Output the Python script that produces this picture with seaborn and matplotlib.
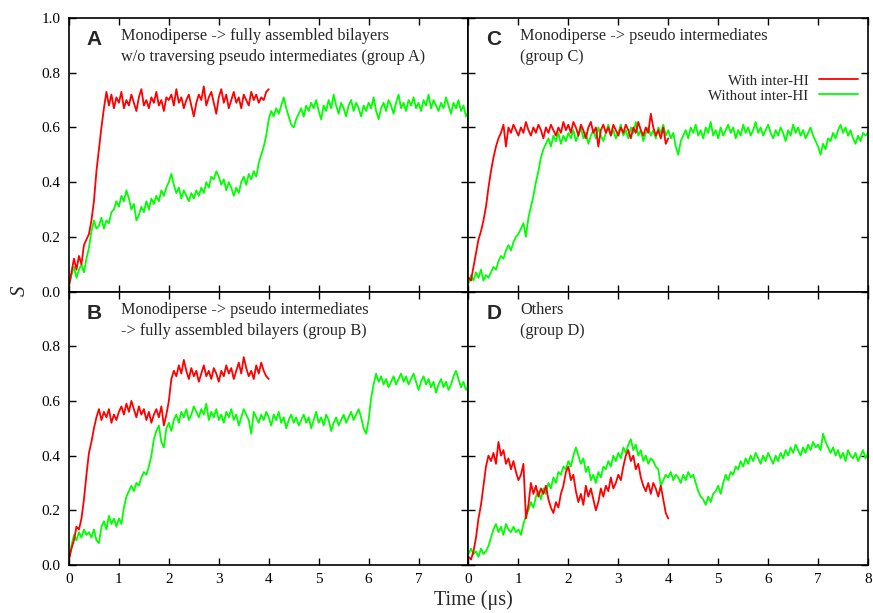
import numpy as np
import pandas as pd
import matplotlib
matplotlib.use("Agg")
import matplotlib.pyplot as plt
import seaborn as sns

# === Order parameter S vs time, 4 groups ===

DT = 0.05  # sampling step of the series (µs)

# group A
a_with = [0.02, 0.07, 0.12, 0.08, 0.13, 0.10, 0.17, 0.19, 0.21, 0.26, 0.33, 0.44, 0.52, 0.60, 0.67, 0.73, 0.68, 0.72, 0.67, 0.71,
          0.69, 0.73, 0.67, 0.70, 0.68, 0.72, 0.69, 0.66, 0.71, 0.74, 0.68, 0.70, 0.67, 0.71, 0.69, 0.73, 0.68, 0.70, 0.66, 0.71,
          0.70, 0.72, 0.68, 0.74, 0.69, 0.71, 0.67, 0.70, 0.72, 0.68, 0.64, 0.69, 0.72, 0.70, 0.75, 0.68, 0.71, 0.73, 0.69, 0.65,
          0.71, 0.74, 0.69, 0.72, 0.67, 0.70, 0.73, 0.69, 0.71, 0.67, 0.72, 0.70, 0.68, 0.73, 0.70, 0.72, 0.69, 0.71, 0.70, 0.73,
          0.74]
a_without = [0.02, 0.06, 0.09, 0.05, 0.08, 0.10, 0.07, 0.12, 0.16, 0.22, 0.26, 0.23, 0.24, 0.27, 0.23, 0.26, 0.25, 0.29, 0.30, 0.33,
             0.31, 0.35, 0.33, 0.37, 0.34, 0.30, 0.32, 0.26, 0.28, 0.31, 0.29, 0.33, 0.30, 0.34, 0.32, 0.35, 0.33, 0.37, 0.35, 0.38,
             0.40, 0.43, 0.39, 0.36, 0.38, 0.34, 0.37, 0.35, 0.33, 0.36, 0.34, 0.37, 0.35, 0.38, 0.36, 0.40, 0.38, 0.42, 0.41, 0.44,
             0.42, 0.39, 0.41, 0.37, 0.40, 0.38, 0.35, 0.38, 0.36, 0.40, 0.42, 0.39, 0.43, 0.41, 0.44, 0.42, 0.47, 0.50, 0.53, 0.57,
             0.63, 0.66, 0.64, 0.67, 0.65, 0.68, 0.71, 0.67, 0.64, 0.61, 0.60, 0.63, 0.65, 0.67, 0.64, 0.68, 0.66, 0.69, 0.67, 0.70,
             0.66, 0.63, 0.68, 0.66, 0.70, 0.67, 0.72, 0.68, 0.65, 0.69, 0.67, 0.64, 0.68, 0.70, 0.66, 0.69, 0.67, 0.64, 0.68, 0.66,
             0.69, 0.67, 0.71, 0.66, 0.63, 0.67, 0.69, 0.66, 0.70, 0.68, 0.65, 0.69, 0.72, 0.67, 0.69, 0.66, 0.70, 0.68, 0.71, 0.67,
             0.69, 0.66, 0.70, 0.68, 0.72, 0.67, 0.70, 0.68, 0.66, 0.69, 0.67, 0.71, 0.68, 0.65, 0.69, 0.67, 0.70, 0.66, 0.68, 0.64,
             0.66]

# group B
b_with = [0.02, 0.06, 0.09, 0.14, 0.13, 0.17, 0.24, 0.33, 0.41, 0.45, 0.50, 0.54, 0.57, 0.53, 0.56, 0.54, 0.57, 0.52, 0.55, 0.53,
          0.56, 0.58, 0.55, 0.59, 0.56, 0.60, 0.57, 0.54, 0.58, 0.55, 0.57, 0.53, 0.56, 0.52, 0.55, 0.57, 0.54, 0.58, 0.51, 0.55,
          0.60, 0.68, 0.71, 0.69, 0.73, 0.70, 0.75, 0.71, 0.68, 0.72, 0.69, 0.71, 0.67, 0.70, 0.73, 0.69, 0.71, 0.68, 0.72, 0.70,
          0.67, 0.71, 0.69, 0.73, 0.70, 0.72, 0.68, 0.71, 0.74, 0.70, 0.76, 0.72, 0.69, 0.71, 0.68, 0.73, 0.70, 0.74, 0.71, 0.69,
          0.68]
b_without = [0.02, 0.07, 0.11, 0.09, 0.12, 0.10, 0.13, 0.11, 0.12, 0.10, 0.13, 0.09, 0.08, 0.14, 0.16, 0.13, 0.18, 0.15, 0.17, 0.14,
             0.17, 0.15, 0.21, 0.25, 0.27, 0.29, 0.27, 0.30, 0.29, 0.32, 0.34, 0.33, 0.36, 0.40, 0.46, 0.49, 0.51, 0.45, 0.43, 0.50,
             0.52, 0.49, 0.53, 0.55, 0.52, 0.56, 0.54, 0.57, 0.53, 0.55, 0.58, 0.56, 0.54, 0.57, 0.55, 0.59, 0.53, 0.56, 0.54, 0.57,
             0.53, 0.55, 0.52, 0.56, 0.54, 0.57, 0.53, 0.55, 0.51, 0.54, 0.57, 0.55, 0.53, 0.48, 0.56, 0.54, 0.52, 0.55, 0.53, 0.56,
             0.54, 0.51, 0.55, 0.53, 0.56, 0.52, 0.54, 0.50, 0.53, 0.55, 0.52, 0.54, 0.51, 0.53, 0.55, 0.52, 0.54, 0.50, 0.53, 0.56,
             0.52, 0.54, 0.51, 0.55, 0.53, 0.49, 0.52, 0.54, 0.51, 0.53, 0.55, 0.52, 0.54, 0.56, 0.53, 0.55, 0.57, 0.54, 0.50, 0.48,
             0.53, 0.61, 0.66, 0.70, 0.67, 0.69, 0.66, 0.68, 0.65, 0.67, 0.69, 0.66, 0.68, 0.70, 0.67, 0.69, 0.66, 0.68, 0.70, 0.67,
             0.64, 0.67, 0.69, 0.66, 0.68, 0.65, 0.67, 0.63, 0.66, 0.68, 0.65, 0.67, 0.64, 0.66, 0.69, 0.71, 0.68, 0.65, 0.67, 0.64,
             0.66]

# group C
c_with = [0.05, 0.04, 0.09, 0.14, 0.19, 0.22, 0.26, 0.31, 0.38, 0.44, 0.49, 0.53, 0.56, 0.58, 0.61, 0.53, 0.60, 0.58, 0.61, 0.59,
          0.57, 0.60, 0.58, 0.62, 0.59, 0.57, 0.60, 0.58, 0.61, 0.59, 0.56, 0.60, 0.58, 0.61, 0.59, 0.57, 0.60, 0.58, 0.62, 0.59,
          0.61, 0.58, 0.62, 0.60, 0.57, 0.61, 0.59, 0.56, 0.60, 0.62, 0.58, 0.60, 0.53, 0.59, 0.61, 0.58, 0.60, 0.57, 0.61, 0.59,
          0.57, 0.60, 0.58, 0.61, 0.59, 0.56, 0.60, 0.58, 0.62, 0.59, 0.57, 0.60, 0.58, 0.65, 0.60, 0.57, 0.59, 0.56, 0.60, 0.54,
          0.56]
c_without = [0.03, 0.06, 0.04, 0.07, 0.05, 0.08, 0.04, 0.06, 0.05, 0.07, 0.09, 0.08, 0.11, 0.13, 0.12, 0.15, 0.17, 0.15, 0.18, 0.20,
             0.21, 0.23, 0.25, 0.20, 0.27, 0.31, 0.35, 0.40, 0.44, 0.49, 0.52, 0.54, 0.56, 0.53, 0.57, 0.55, 0.58, 0.54, 0.57, 0.55,
             0.58, 0.56, 0.59, 0.55, 0.57, 0.60, 0.56, 0.58, 0.54, 0.57, 0.59, 0.56, 0.60, 0.57, 0.55, 0.58, 0.61, 0.57, 0.59, 0.56,
             0.58, 0.61, 0.57, 0.59, 0.56, 0.60, 0.58, 0.62, 0.57, 0.59, 0.55, 0.58, 0.60, 0.57, 0.59, 0.56, 0.60, 0.58, 0.61, 0.57,
             0.59, 0.56, 0.58, 0.53, 0.50, 0.55, 0.57, 0.59, 0.56, 0.60, 0.58, 0.61, 0.57, 0.59, 0.56, 0.60, 0.58, 0.62, 0.57, 0.59,
             0.56, 0.60, 0.57, 0.59, 0.61, 0.58, 0.60, 0.56, 0.59, 0.57, 0.61, 0.58, 0.60, 0.57, 0.59, 0.62, 0.58, 0.60, 0.57, 0.59,
             0.61, 0.58, 0.56, 0.59, 0.57, 0.60, 0.58, 0.55, 0.59, 0.57, 0.61, 0.58, 0.60, 0.57, 0.59, 0.56, 0.58, 0.60, 0.57, 0.55,
             0.53, 0.50, 0.54, 0.52, 0.56, 0.55, 0.58, 0.56, 0.59, 0.61, 0.58, 0.60, 0.57, 0.59, 0.56, 0.54, 0.57, 0.55, 0.58, 0.57,
             0.58]

# group D
d_with = [0.03, 0.02, 0.05, 0.10, 0.17, 0.22, 0.29, 0.36, 0.40, 0.38, 0.41, 0.37, 0.45, 0.40, 0.42, 0.37, 0.39, 0.35, 0.38, 0.34,
          0.31, 0.33, 0.37, 0.17, 0.22, 0.30, 0.26, 0.29, 0.25, 0.28, 0.26, 0.29, 0.24, 0.21, 0.19, 0.23, 0.21, 0.26, 0.29, 0.34,
          0.36, 0.31, 0.33, 0.27, 0.23, 0.26, 0.22, 0.29, 0.25, 0.28, 0.24, 0.20, 0.23, 0.28, 0.25, 0.29, 0.27, 0.32, 0.28, 0.30,
          0.33, 0.31, 0.36, 0.40, 0.42, 0.38, 0.40, 0.35, 0.37, 0.32, 0.29, 0.27, 0.30, 0.26, 0.30, 0.28, 0.25, 0.29, 0.24, 0.19,
          0.17]
d_without = [0.04, 0.06, 0.04, 0.05, 0.03, 0.06, 0.04, 0.05, 0.07, 0.10, 0.13, 0.15, 0.12, 0.14, 0.11, 0.15, 0.13, 0.12, 0.14, 0.12,
             0.13, 0.11, 0.15, 0.18, 0.20, 0.23, 0.21, 0.25, 0.27, 0.24, 0.28, 0.26, 0.30, 0.28, 0.32, 0.30, 0.34, 0.33, 0.36, 0.35,
             0.38, 0.36, 0.40, 0.43, 0.40, 0.37, 0.39, 0.34, 0.36, 0.31, 0.33, 0.30, 0.34, 0.32, 0.36, 0.35, 0.38, 0.36, 0.40, 0.38,
             0.41, 0.39, 0.43, 0.41, 0.44, 0.46, 0.42, 0.44, 0.40, 0.42, 0.38, 0.40, 0.37, 0.39, 0.38, 0.36, 0.35, 0.29, 0.31, 0.33,
             0.32, 0.34, 0.31, 0.33, 0.32, 0.30, 0.33, 0.31, 0.34, 0.32, 0.33, 0.30, 0.27, 0.25, 0.24, 0.22, 0.25, 0.23, 0.26, 0.27,
             0.29, 0.26, 0.30, 0.33, 0.31, 0.34, 0.33, 0.36, 0.35, 0.38, 0.36, 0.39, 0.37, 0.40, 0.38, 0.41, 0.39, 0.37, 0.40, 0.38,
             0.41, 0.39, 0.37, 0.40, 0.38, 0.41, 0.39, 0.42, 0.40, 0.43, 0.41, 0.44, 0.42, 0.40, 0.43, 0.41, 0.44, 0.42, 0.45, 0.43,
             0.44, 0.42, 0.48, 0.45, 0.43, 0.41, 0.43, 0.40, 0.42, 0.39, 0.41, 0.38, 0.42, 0.40, 0.39, 0.41, 0.38, 0.40, 0.42, 0.39,
             0.41]

panels = {
    "A": (a_with, a_without, "Monodiperse -> fully assembled bilayers\nw/o traversing pseudo intermediates (group A)"),
    "C": (c_with, c_without, "Monodiperse -> pseudo intermediates\n(group C)"),
    "B": (b_with, b_without, "Monodiperse -> pseudo intermediates\n-> fully assembled bilayers (group B)"),
    "D": (d_with, d_without, "Others\n(group D)"),
}
label_with = "With inter-HI"
label_without = "Without inter-HI"

sns.set_style("white")
plt.rcParams['font.family'] = ['Liberation Serif', 'DejaVu Serif']

fig, axes = plt.subplots(2, 2, figsize=(8.73, 6.13), dpi=100, gridspec_kw=dict(hspace=0, wspace=0))
plt.subplots_adjust(left=0.079, right=0.9943, top=0.9706, bottom=0.0783)

order = [("A", 0, 0), ("C", 0, 1), ("B", 1, 0), ("D", 1, 1)]
for letter, r, c in order:
    ax = axes[r, c]
    s_with, s_without, note = panels[letter]
    t_with = np.round(np.arange(len(s_with)) * DT, 2)
    t_without = np.round(np.arange(len(s_without)) * DT, 2)
    sns.lineplot(x=t_without, y=s_without, ax=ax, color='#00ff00', lw=1.3, legend=False, label=label_without)
    sns.lineplot(x=t_with, y=s_with, ax=ax, color='#ff0000', lw=1.3, legend=False, label=label_with)

    ax.set_xlim(0, 8)
    ax.set_ylim(0, 1.0)
    ax.set_xticks(range(0, 9))
    ax.set_yticks([0, 0.2, 0.4, 0.6, 0.8, 1.0])
    ax.tick_params(direction='in', top=True, right=True, bottom=True, left=True,
                   length=5, width=1, labelsize=11, colors='black', pad=6)
    for sp in ax.spines.values():
        sp.set_color('black')
        sp.set_linewidth(1.2)
    ax.set_xlabel('')
    ax.set_ylabel('')

    if c == 0:
        ylabs = ['0.0', '0.2', '0.4', '0.6', '0.8', '1.0' if r == 0 else '']
        ax.set_yticklabels(ylabs)
    else:
        ax.set_yticklabels([])
    if r == 1:
        xlabs = [str(i) for i in range(9)]
        if c == 0:
            xlabs[-1] = ''
        ax.set_xticklabels(xlabs)
    else:
        ax.set_xticklabels([])

    ax.text(0.045, 0.955, letter, transform=ax.transAxes, ha='left', va='top',
            fontsize=15, fontweight='bold', family=['Liberation Sans', 'DejaVu Sans'])
    ax.text(0.13, 0.962, note, transform=ax.transAxes, ha='left', va='top',
            fontsize=11.7, linespacing=1.4)

# legend (gnuplot style: text then line sample) in panel C
axC = axes[0, 1]
handles, labels = axC.get_legend_handles_labels()
axC.legend(handles[::-1], labels[::-1], loc='upper right', bbox_to_anchor=(0.975, 0.795),
           frameon=False, markerfirst=False, fontsize=10.8, handlelength=2.6,
           handletextpad=0.7, labelspacing=0.1, borderpad=0, borderaxespad=0)

fig.text(0.023, 0.525, 'S', rotation=90, ha='center', va='center', fontsize=15, style='italic')
fig.text(0.542, 0.021, 'Time (μs)', ha='center', va='center', fontsize=14.5)

fig.savefig('out.png', dpi=100)
